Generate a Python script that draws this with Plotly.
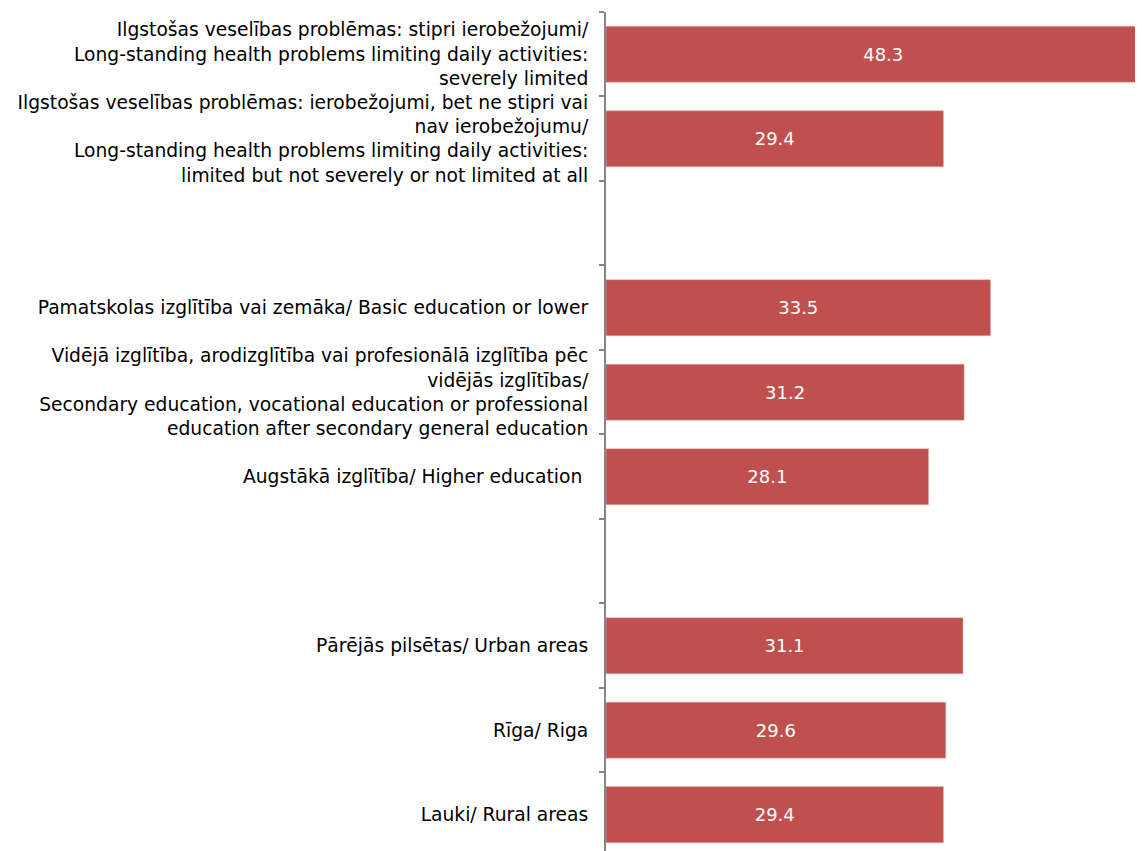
import plotly.graph_objects as go

categories = [
    "Ilgstošas veselības problēmas: stipri ierobežojumi/<br>Long-standing health problems limiting daily activities:<br>severely limited",
    "Ilgstošas veselības problēmas: ierobežojumi, bet ne stipri vai<br>nav ierobežojumu/<br>Long-standing health problems limiting daily activities:<br>limited but not severely or not limited at all",
    " ",
    "Pamatskolas izglītība vai zemāka/ Basic education or lower",
    "Vidējā izglītība, arodizglītība vai profesionālā izglītība pēc<br>vidējās izglītības/<br>Secondary education, vocational education or professional<br>education after secondary general education",
    "Augstākā izglītība/ Higher education ",
    "  ",
    "Pārējās pilsētas/ Urban areas",
    "Rīga/ Riga",
    "Lauki/ Rural areas",
]
values = [48.3, 29.4, None, 33.5, 31.2, 28.1, None, 31.1, 29.6, 29.4]
labels = ["" if v is None else f"{v:.1f}" for v in values]

fig = go.Figure(go.Bar(
    y=categories,
    x=values,
    orientation="h",
    marker=dict(color="#C0504D", line=dict(color="#E6B9B8", width=0.5)),
    text=labels,
    textposition="inside",
    insidetextanchor="middle",
    textfont=dict(color="white", size=18, family="DejaVu Sans"),
    cliponaxis=True,
))

fig.update_layout(
    width=1135,
    height=843,
    margin=dict(l=598, r=0, t=4, b=0),
    paper_bgcolor="white",
    plot_bgcolor="white",
    showlegend=False,
    bargap=0.336,
    font=dict(family="DejaVu Sans", size=18.7, color="black"),
)
fig.update_xaxes(
    range=[0, 46.78],
    visible=False,
    showgrid=False,
    zeroline=False,
)
fig.update_yaxes(
    type="category",
    categoryorder="array",
    categoryarray=categories,
    range=[9.43, -0.5],
    tickson="boundaries",
    ticks="outside",
    ticklen=5,
    tickwidth=1.5,
    tickcolor="#868686",
    showline=True,
    linecolor="#868686",
    linewidth=2,
    showgrid=False,
    ticklabelstandoff=12,
    tickfont=dict(size=18.7, family="DejaVu Sans", color="black"),
)

fig.write_html("out.html")
